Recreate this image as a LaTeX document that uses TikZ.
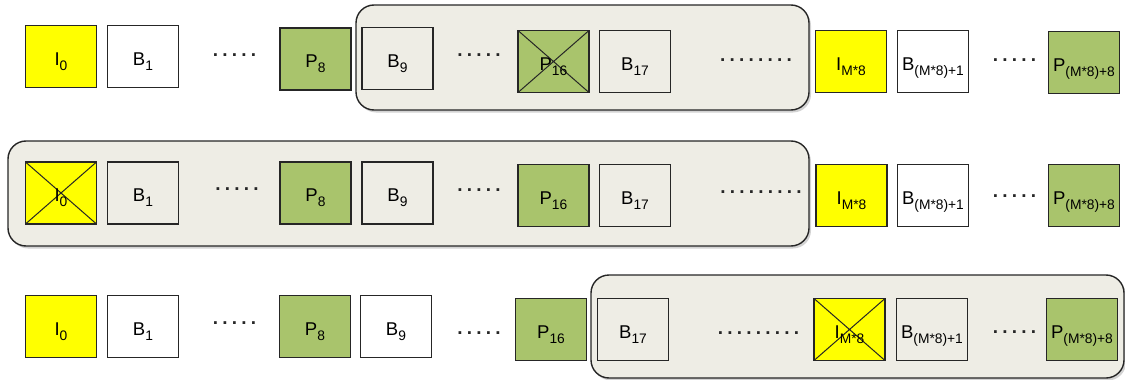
\documentclass[tikz,border=0pt]{standalone}
\usepackage{fontspec}
\setmainfont{Liberation Sans}
\usetikzlibrary{shadows}
\definecolor{yel}{HTML}{FFFF00}
\definecolor{grn}{HTML}{A9C46C}
\definecolor{frm}{HTML}{EEEDE5}
\definecolor{lc}{HTML}{262626}
\newcommand\sbs[1]{\raisebox{-5pt}{\fontsize{13.8}{14}\selectfont #1}}
\newcommand\lblfont{\fontsize{18.5}{20}\selectfont}
\newcommand\dotfont{\fontsize{19}{20}\selectfont\bfseries}
\newcommand\dts[1]{\foreach \k in {1,...,#1}{\ifnum\k>1\hspace{4.2pt}\fi.}}
\tikzset{
  box/.style={draw=lc, line width=1.1pt, minimum width=71pt, minimum height=62pt, inner sep=0pt,
      font=\lblfont, text height=17pt, text depth=0pt},
  ibox/.style={box, fill=yel},
  pbox/.style={box, fill=grn},
  bbox/.style={box},
  xbox/.style={path picture={
      \draw[lc, line width=1pt] (path picture bounding box.south west) -- (path picture bounding box.north east)
        (path picture bounding box.north west) -- (path picture bounding box.south east);}},
  frame/.style={draw=lc, line width=1.4pt, fill=frm, rounded corners=18pt, inner sep=0pt,
      drop shadow={opacity=0.35, shadow xshift=2pt, shadow yshift=-2.5pt}},
  dots/.style={inner sep=0pt, font=\dotfont, text=lc}
}
\begin{document}
\begin{tikzpicture}[x=1pt,y=-1pt]
\useasboundingbox (0,0) rectangle (1125,380);
% frames
\node[frame, minimum width=453pt, minimum height=105pt] (f1) at (582.5,57.5) {};
\node[frame, minimum width=801pt, minimum height=105pt] (f2) at (408.5,193.5) {};
\node[frame, minimum width=533pt, minimum height=103pt] (f3) at (857.5,326.5) {};
% row 1
\node[ibox] (a1) at (61,56.5) {I\sbs{0}};
\node[bbox, fill=white] (a2) at (143,56.5) {B\sbs{1}};
\node[dots] (ad1) at (234.5,55) {\dts{5}};
\node[pbox] (a3) at (315.5,59) {P\sbs{8}};
\node[bbox] (a4) at (397.5,58.5) {B\sbs{9}};
\node[dots] (ad2) at (479,55) {\dts{5}};
\node[pbox, xbox] (a5) at (553.5,61.5) {P\sbs{16}};
\node[bbox] (a6) at (635,61.5) {B\sbs{17}};
\node[dots] (ad3) at (756,60) {\dts{8}};
\node[ibox] (a7) at (851,61.5) {I\sbs{M*8}};
\node[bbox, fill=white] (a8) at (933,61.5) {B\sbs{(M*8)+1}};
\node[dots] (ad4) at (1014.5,60) {\dts{5}};
\node[pbox] (a9) at (1084,62.5) {P\sbs{(M*8)+8}};
% row 2
\node[ibox, xbox] (b1) at (61,193) {I\sbs{0}};
\node[bbox] (b2) at (143,193) {B\sbs{1}};
\node[dots] (bd1) at (237,189) {\dts{5}};
\node[pbox] (b3) at (315.5,193) {P\sbs{8}};
\node[bbox] (b4) at (397.5,193) {B\sbs{9}};
\node[dots] (bd2) at (479,190) {\dts{5}};
\node[pbox] (b5) at (553.5,195.5) {P\sbs{16}};
\node[bbox] (b6) at (635,195.5) {B\sbs{17}};
\node[dots] (bd3) at (761,192) {\dts{9}};
\node[ibox] (b7) at (851.5,195.5) {I\sbs{M*8}};
\node[bbox, fill=white] (b8) at (933,195.5) {B\sbs{(M*8)+1}};
\node[dots] (bd4) at (1014.5,196) {\dts{5}};
\node[pbox] (b9) at (1084,195.5) {P\sbs{(M*8)+8}};
% row 3
\node[ibox] (c1) at (61,326.5) {I\sbs{0}};
\node[bbox, fill=white] (c2) at (143,326.5) {B\sbs{1}};
\node[dots] (cd1) at (234.5,323) {\dts{5}};
\node[pbox] (c3) at (315,326.5) {P\sbs{8}};
\node[bbox, fill=white] (c4) at (396,326.5) {B\sbs{9}};
\node[dots] (cd2) at (479,333) {\dts{5}};
\node[pbox] (c5) at (551,329.5) {P\sbs{16}};
\node[bbox] (c6) at (633,329.5) {B\sbs{17}};
\node[dots] (cd3) at (758.5,333) {\dts{9}};
\node[ibox, xbox] (c7) at (849.5,329.5) {I\sbs{M*8}};
\node[bbox] (c8) at (932,329.5) {B\sbs{(M*8)+1}};
\node[dots] (cd4) at (1014.5,332) {\dts{5}};
\node[pbox] (c9) at (1082,329.5) {P\sbs{(M*8)+8}};
\end{tikzpicture}
\end{document}
